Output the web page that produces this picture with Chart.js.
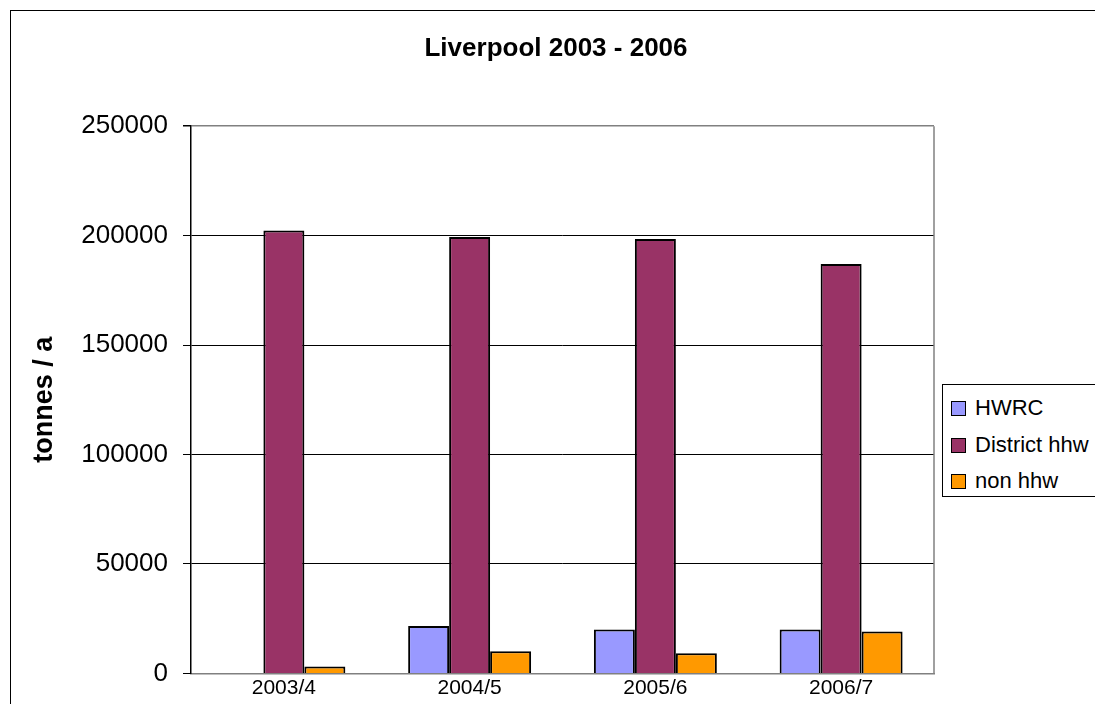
<!DOCTYPE html>
<html>
<head>
<meta charset="utf-8">
<script src="https://cdn.jsdelivr.net/npm/chart.js@4/dist/chart.umd.min.js"></script>
<style>
    html, body { margin: 0; padding: 0; background: #fff; overflow: hidden; }
    #wrap { position: relative; width: 1095px; height: 704px; }
    #frame { position: absolute; left: 10px; top: 10px; width: 2000px; height: 2000px; border: 1px solid #000; box-sizing: border-box; }
    #chartCanvas { position: absolute; left: 0; top: 0; }
    #legend {
        position: absolute; left: 942px; top: 384px; width: 170px; height: 113px;
        border: 1px solid #000; box-sizing: border-box; background: #fff;
        font-family: "Liberation Sans", Arial, sans-serif; font-size: 22px; color: #000;
    }
    .item { position: absolute; left: 8px; height: 24px; line-height: 24px; white-space: nowrap; }
    .swatch { display: inline-block; width: 13px; height: 13px; border: 1px solid #000; margin-right: 9px; vertical-align: -1px; }
</style>
</head>
<body>
<div id="wrap">
    <div id="frame"></div>
    <canvas id="chartCanvas" width="1095" height="704"></canvas>
    <div id="legend"></div>
</div>
<script>
const categories = ['2003/4', '2004/5', '2005/6', '2006/7'];
const hwrc = [0, 21700, 20000, 20000];
const districtHhw = [202300, 199400, 198500, 187000];
const nonHhw = [3200, 10100, 9200, 19100];

const seriesNames = ['HWRC', 'District hhw', 'non hhw'];
const seriesColors = ['#9999FF', '#993366', '#FF9900'];

const FONT = '"Liberation Sans", Arial, sans-serif';

// right edge of the plot area, gray like the rest of the frame
const plotFrame = {
    id: 'plotFrame',
    afterDraw(chart) {
        const { ctx, chartArea } = chart;
        ctx.save();
        ctx.strokeStyle = '#808080';
        ctx.lineWidth = 1.5;
        ctx.beginPath();
        ctx.moveTo(chartArea.right, chartArea.top);
        ctx.lineTo(chartArea.right, chartArea.bottom);
        ctx.stroke();
        ctx.restore();
    }
};

const seriesData = [hwrc, districtHhw, nonHhw];
const datasets = seriesNames.map((name, i) => ({
    label: name,
    data: seriesData[i],
    backgroundColor: seriesColors[i],
    borderColor: '#000',
    borderWidth: 2,
    borderSkipped: 'start',
    barPercentage: 1,
    categoryPercentage: 0.662
}));

const ctx = document.getElementById('chartCanvas').getContext('2d');
new Chart(ctx, {
    type: 'bar',
    data: { labels: categories, datasets: datasets },
    plugins: [plotFrame],
    options: {
        responsive: false,
        animation: false,
        layout: { padding: { left: 17, right: 0, top: 0, bottom: 0 } },
        plugins: {
            legend: { display: false },
            tooltip: { enabled: false },
            title: {
                display: true,
                text: 'Liverpool 2003 - 2006',
                color: '#000',
                font: { family: FONT, size: 26, weight: 'bold' },
                padding: { top: 33, bottom: 62 }
            }
        },
        scales: {
            x: {
                grid: { display: false, drawTicks: false },
                border: { display: true, color: '#808080', width: 1.5 },
                ticks: { color: '#000', font: { family: FONT, size: 21 }, padding: 2, maxRotation: 0 },
                afterFit: s => { s.height = 25; }
            },
            y: {
                min: 0,
                max: 250000,
                ticks: {
                    stepSize: 50000,
                    color: '#000',
                    font: { family: FONT, size: 26 },
                    padding: 15,
                    callback: v => String(v)
                },
                grid: {
                    color: c => (c.tick && (c.tick.value === 0 || c.tick.value === 250000)) ? '#808080' : '#000',
                    lineWidth: c => (c.tick && c.tick.value === 250000) ? 1.5 : 1,
                    tickColor: '#000',
                    tickLength: 8
                },
                border: { display: true, color: '#000', width: 1.5 },
                title: {
                    display: true,
                    text: 'tonnes / a',
                    color: '#000',
                    font: { family: FONT, size: 27, weight: 'bold' },
                    padding: { top: 11, bottom: 0 }
                },
                afterFit: s => { s.width = 174; }
            },
            // empty axis reserving the space where the legend sits
            legendSpace: {
                type: 'linear',
                position: 'right',
                display: true,
                ticks: { display: false },
                grid: { display: false, drawTicks: false },
                border: { display: false },
                afterFit: s => { s.width = 161; }
            }
        }
    }
});

// legend built from the series
const legend = document.getElementById('legend');
const rowTops = [11, 48, 84];
seriesNames.forEach((name, i) => {
    const item = document.createElement('div');
    item.className = 'item';
    item.style.top = rowTops[i] + 'px';
    item.innerHTML = '<span class="swatch" style="background:' + seriesColors[i] + '"></span>' + name;
    legend.appendChild(item);
});
</script>
</body>
</html>
